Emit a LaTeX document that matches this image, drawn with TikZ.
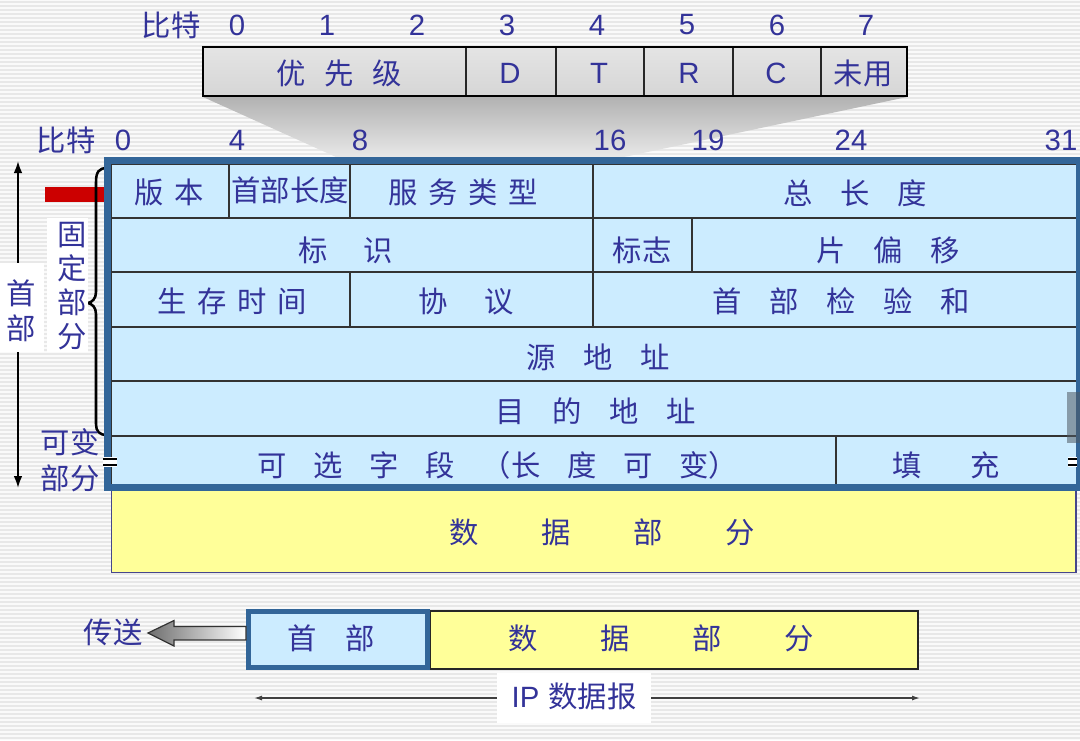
\documentclass[tikz,border=0pt]{standalone}
\usepackage{fontspec}
\setmainfont{Liberation Sans}
\newfontfamily\cjk{Noto Sans CJK SC}
\usetikzlibrary{arrows.meta}
\definecolor{textblue}{RGB}{51,51,153}
\definecolor{cellblue}{RGB}{204,236,255}
\definecolor{bblue}{RGB}{51,102,153}
\definecolor{dyellow}{RGB}{255,255,153}
\definecolor{dred}{RGB}{204,0,0}
\definecolor{stripec}{RGB}{232,232,232}
\definecolor{bgwhite}{RGB}{250,250,250}
\definecolor{yedge}{RGB}{70,70,140}
\definecolor{trapTop}{RGB}{178,178,178}
\definecolor{trapBot}{RGB}{232,232,232}
\definecolor{boxTop}{RGB}{228,228,228}
\definecolor{boxBot}{RGB}{214,214,214}
\definecolor{overlayc}{RGB}{80,90,100}
\definecolor{arrowDark}{RGB}{110,110,110}
\newlength\pxu \setlength\pxu{0.75pt}
\newcommand\kgap[1]{\hspace{#1\pxu}}
\begin{document}
\begin{tikzpicture}[x=0.75pt,y=-0.75pt,
  lat/.style={inner sep=0pt, text=textblue, font=\fontsize{22}{26}\selectfont},
  cj/.style={inner sep=0pt, text=textblue, font=\cjk\fontsize{22}{26}\selectfont},
  gridline/.style={draw=black!80, line width=0.9pt},
  thinarrow/.style={draw=black!75, line width=1pt, -{Latex[length=6pt,width=3.8pt]}},
  bigarrow/.style={draw=black, line width=1.5pt, -{Latex[length=9pt,width=6.5pt]}},
  whitebox/.style={fill=white, inner sep=0pt}]
\useasboundingbox (0,0) rectangle (1080,740);
\clip (0,0) rectangle (1080,740);
% background
\fill[bgwhite] (0,0) rectangle (1080,740);
\foreach \y in {2,6,...,738} \draw[stripec, line width=1.1pt] (0,\y) -- (1080,\y);

% trapezoid zoom shade
\shade[top color=trapTop, bottom color=trapBot]
  (203,97) -- (907,97) -- (624,157) -- (336,157) -- cycle;

% top box (TOS byte)
\shadedraw[top color=boxTop, bottom color=boxBot, draw=black, line width=1.5pt]
  (203,47) rectangle (907,96);
\foreach \x in {466,556,644,733,821} \draw[black!85, line width=1pt] (\x,48) -- (\x,95);
\node[cj] (tprio) at (339,73) {优\kgap{18.7}先\kgap{18.7}级};
\node[lat] (tD) at (510,73) {D};
\node[lat] (tT) at (599,73) {T};
\node[lat] (tR) at (689,73) {R};
\node[lat] (tC) at (776,73) {C};
\node[cj] (tU) at (863,73) {未用};

% top bit labels
\node[cj] (bit1) at (171,25) {比特};
\node[lat] (b0) at (237,25) {0};
\node[lat] (b1) at (327,25) {1};
\node[lat] (b2) at (417,25) {2};
\node[lat] (b3) at (507,25) {3};
\node[lat] (b4) at (597,25) {4};
\node[lat] (b5) at (687,25) {5};
\node[lat] (b6) at (777,25) {6};
\node[lat] (b7) at (866,25) {7};

% second bit labels
\node[cj] (bit2) at (66,140) {比特};
\node[lat] (c0) at (123,140) {0};
\node[lat] (c4) at (237,140) {4};
\node[lat] (c8) at (360,140) {8};
\node[lat] (c16) at (610,140) {16};
\node[lat] (c19) at (708,140) {19};
\node[lat] (c24) at (851,140) {24};
\node[lat] (c31) at (1061,140) {31};

% left annotations
\fill[dred] (45,187) rectangle (106,202);
\draw[black, line width=1.9pt] (107,168) .. controls (99,168) and (96,172) .. (96,182) -- (96,292)
  .. controls (96,299) and (92,302) .. (88,303) .. controls (92,304) and (96,307) .. (96,314)
  -- (96,424) .. controls (96,431) and (99,435) .. (107,435);

\node[whitebox, minimum width=33pt, minimum height=66.75pt] (fm) at (22,307.5) {};
\node[cj, align=center, font=\cjk\fontsize{22}{26.25}\selectfont] (fmtext) at (21,311) {首\\部};
\coordinate (fmtop) at (18,161);
\coordinate (fmbot) at (18,488);
\draw[bigarrow] (fm.north -| fmtop) -- (fmtop);
\draw[bigarrow] (fm.south -| fmbot) -- (fmbot);

\node[whitebox, minimum width=30.75pt, minimum height=100.5pt] (gdbox) at (67.5,285) {};
\node[cj, align=center, font=\cjk\fontsize{22}{25.3}\selectfont] (gd) at (72,286) {固\\定\\部\\分};
\node[cj, align=center, font=\cjk\fontsize{22}{27}\selectfont] (kb) at (70,460) {可变\\部分};

% main header table
\fill[cellblue] (111,164) rectangle (1076,485);
\draw[gridline] (111.5,485) -- (111.5,164.5) -- (1076,164.5);
\foreach \y in {218,272,327,381,436} \draw[gridline] (111,\y) -- (1076,\y);
\foreach \x in {229,350,593} \draw[gridline] (\x,164) -- (\x,218);
\foreach \x in {593,692} \draw[gridline] (\x,218) -- (\x,272);
\foreach \x in {350,593} \draw[gridline] (\x,272) -- (\x,327);
\draw[gridline] (836,436) -- (836,485);

\node[cj] (ver) at (169,192) {版\kgap{10.7}本};
\node[cj] (ihl) at (290,190) {首部长度};
\node[cj] (tos) at (463,192) {服\kgap{10.7}务\kgap{10.7}类\kgap{10.7}型};
\node[cj] (tlen) at (855,193) {总\kgap{27.7}长\kgap{27.7}度};
\node[cj] (ident) at (346,250) {标\kgap{35.7}识};
\node[cj] (flag) at (642,250) {标志};
\node[cj] (frag) at (888,250) {片\kgap{27.7}偏\kgap{27.7}移};
\node[cj] (ttl) at (232,301) {生\kgap{10.7}存\kgap{10.7}时\kgap{10.7}间};
\node[cj] (proto) at (466,301) {协\kgap{36.7}议};
\node[cj] (csum) at (841,301) {首\kgap{27.7}部\kgap{27.7}检\kgap{27.7}验\kgap{27.7}和};
\node[cj] (src) at (598,357) {源\kgap{27.7}地\kgap{27.7}址};
\node[cj] (dst) at (596,411) {目\kgap{27.7}的\kgap{27.7}地\kgap{27.7}址};
\node[cj, anchor=west] (opt) at (257.5,465) {可\kgap{26.7}选\kgap{26.7}字\kgap{26.7}段\kgap{26.7}（长\kgap{26.7}度\kgap{26.7}可\kgap{26.7}变）};
\node[cj] (pad) at (946,465) {填\kgap{48.7}充};

% data part
\filldraw[fill=dyellow, draw=yedge, line width=0.8pt] (111.5,490) rectangle (1076,572.5);
\node[cj] (data) at (602,532) {数\kgap{62.7}据\kgap{62.7}部\kgap{62.7}分};

% thick blue border
\draw[bblue, line width=5.25pt] (107.5,160.5) rectangle (1079.5,487.5);

% break marks
\fill[white] (103,457) rectangle (117,467);
\draw[black, line width=1.4pt] (103,459.3) -- (117,459.3) (103,464.7) -- (117,464.7);
\fill[white] (1068,457) rectangle (1077,467);
\draw[black, line width=1.4pt] (1068,459.3) -- (1077,459.3) (1068,464.7) -- (1077,464.7);

% scroll overlay
\fill[overlayc, opacity=0.55] (1067,392) rectangle (1080,443);

% bottom datagram
\filldraw[fill=dyellow, draw=black!85, line width=1.2pt] (430,611) rectangle (918,669);
\filldraw[fill=cellblue, draw=bblue, line width=3.75pt] (248.5,611) rectangle (427.5,667.5);
\node[cj] (hdr) at (331,638) {首\kgap{28.7}部};
\node[cj] (bdata) at (661,638) {数\kgap{62.7}据\kgap{62.7}部\kgap{62.7}分};
\node[cj] (send) at (113,632) {传送};
\coordinate (sendtip) at (148,633);
\shadedraw[left color=arrowDark, right color=white, draw=black!80, line width=0.9pt]
  (sendtip) -- (174,620.5) -- (174,626.5) -- (246,626.5) -- (246,640) -- (174,640) -- (174,646) -- cycle;

\node[whitebox, minimum width=115.5pt, minimum height=37.5pt] (iplab) at (574,698) {};
\node[lat] (iptext) at (574,696) {IP\kgap{9}{\cjk 数据报}};
\coordinate (ipL) at (254,698);
\coordinate (ipR) at (920,698);
\draw[thinarrow] (iplab.west) -- (ipL);
\draw[thinarrow] (iplab.east) -- (ipR);
\end{tikzpicture}
\end{document}
